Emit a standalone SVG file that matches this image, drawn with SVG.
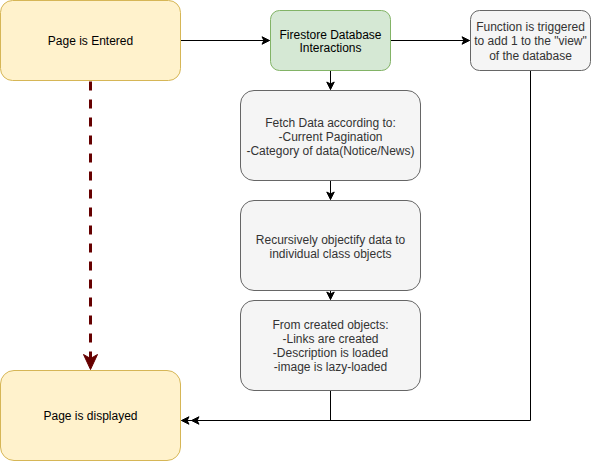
<svg xmlns="http://www.w3.org/2000/svg" width="591" height="461" viewBox="0 0 591 461">
<style>
  .box { stroke-width: 1; }
  .yellow { fill: #fff2cc; stroke: #d6b656; }
  .green { fill: #d5e8d4; stroke: #82b366; }
  .gray { fill: #f5f5f5; stroke: #666666; }
  .t { font-family: "Liberation Sans", Arial, Helvetica, sans-serif; font-size: 12px; text-anchor: middle; fill: #000000; }
  .tg { fill: #333333; }
  .edge { fill: none; stroke: #000000; stroke-width: 1; }
  .dash { fill: none; stroke: #660000; stroke-width: 3; stroke-dasharray: 9 9; }
</style>
<defs>
  <marker id="arr" markerUnits="userSpaceOnUse" orient="auto" refX="0" refY="0" overflow="visible" markerWidth="10" markerHeight="10">
    <path d="M0,0 L-7.5,-3.75 L-5.6,0 L-7.5,3.75 Z" fill="#000000" stroke="#000000" stroke-width="1"/>
  </marker>
  <marker id="arrRed" markerUnits="userSpaceOnUse" orient="auto" refX="0" refY="0" overflow="visible" markerWidth="20" markerHeight="20">
    <path d="M0,0 L-15,-7 L-11,0 L-15,7 Z" fill="#660000" stroke="#660000" stroke-width="1"/>
  </marker>
</defs>
<g id="connectors">
  <path class="edge" d="M180.5,40.5 L269.5,40.5" marker-end="url(#arr)"/>
  <path class="edge" d="M390.5,40.5 L469.5,40.5" marker-end="url(#arr)"/>
  <path class="edge" d="M330.5,70.5 L330.5,89.5" marker-end="url(#arr)"/>
  <path class="edge" d="M330.5,180.5 L330.5,199.5" marker-end="url(#arr)"/>
  <path class="edge" d="M330.5,290.5 L330.5,299.5" marker-end="url(#arr)"/>
  <path class="edge" d="M530.5,70.5 L530.5,420.5 L191.5,420.5" marker-end="url(#arr)"/>
  <path class="edge" d="M330.5,390.5 L330.5,420.5 L181.5,420.5" marker-end="url(#arr)"/>
  <path class="dash" d="M90.5,81.5 L90.5,369.5" marker-end="url(#arrRed)"/>
</g>
<g id="page-entered">
  <rect class="box yellow" x="0.5" y="0.5" width="180" height="80" rx="12" ry="12"/>
  <text class="t" x="90.5" y="44.5">Page is Entered</text>
</g>
<g id="firestore">
  <rect class="box green" x="270.5" y="10.5" width="120" height="60" rx="9" ry="9"/>
  <text class="t" x="330.5" y="38.5">Firestore Database</text>
  <text class="t" x="330.5" y="52">Interactions</text>
</g>
<g id="function">
  <rect class="box gray" x="470.5" y="10.5" width="120" height="60" rx="9" ry="9"/>
  <text class="t tg" x="530.5" y="30.5">Function is triggered</text>
  <text class="t tg" x="530.5" y="45">to add 1 to the "view"</text>
  <text class="t tg" x="530.5" y="59.5">of the database</text>
</g>
<g id="fetch">
  <rect class="box gray" x="240.5" y="90.5" width="180" height="90" rx="13.5" ry="13.5"/>
  <text class="t tg" x="330.5" y="126.5">Fetch Data according to:</text>
  <text class="t tg" x="330.5" y="140.5">-Current Pagination</text>
  <text class="t tg" x="330.5" y="154.5">-Category of data(Notice/News)</text>
</g>
<g id="objectify">
  <rect class="box gray" x="240.5" y="200.5" width="180" height="90" rx="13.5" ry="13.5"/>
  <text class="t tg" x="330.5" y="243.5">Recursively objectify data to</text>
  <text class="t tg" x="330.5" y="257.5">individual class objects</text>
</g>
<g id="created">
  <rect class="box gray" x="240.5" y="300.5" width="180" height="90" rx="13.5" ry="13.5"/>
  <text class="t tg" x="330.5" y="329">From created objects:</text>
  <text class="t tg" x="330.5" y="343">-Links are created</text>
  <text class="t tg" x="330.5" y="357">-Description is loaded</text>
  <text class="t tg" x="330.5" y="371">-image is lazy-loaded</text>
</g>
<g id="page-displayed">
  <rect class="box yellow" x="0.5" y="370.5" width="180" height="90" rx="13.5" ry="13.5"/>
  <text class="t" x="90.5" y="420">Page is displayed</text>
</g>
</svg>
